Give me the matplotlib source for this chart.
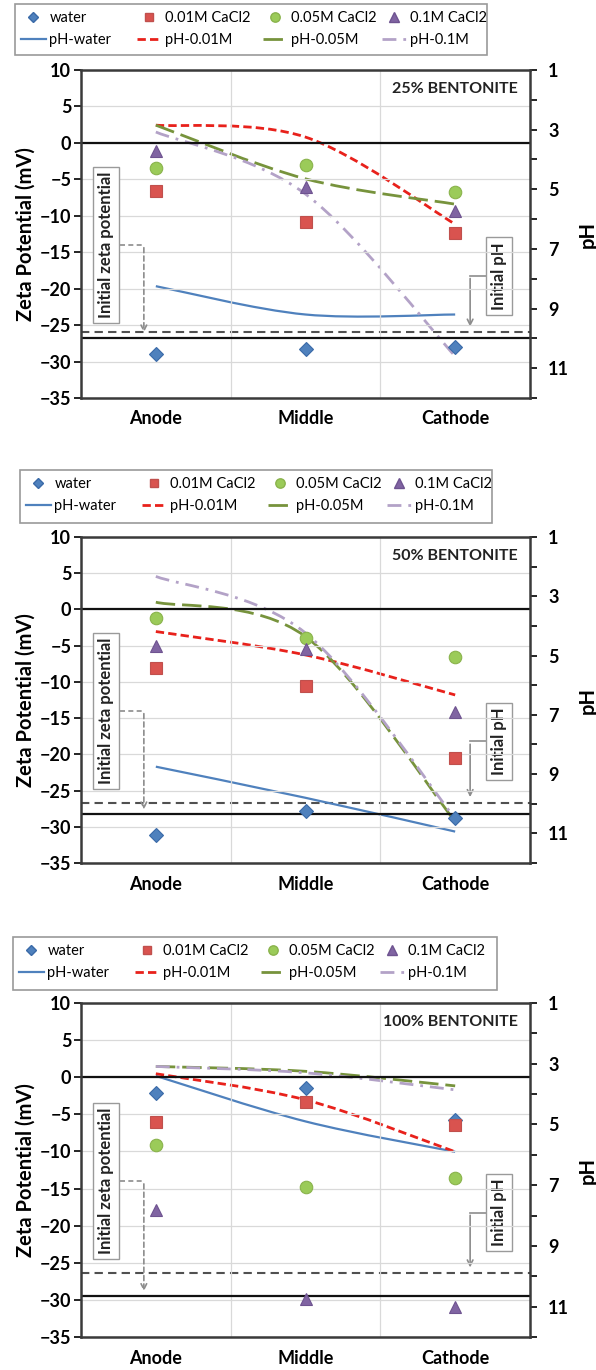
import matplotlib
matplotlib.use("Agg")
import matplotlib.pyplot as plt
from matplotlib.path import Path
from matplotlib.patches import PathPatch, Rectangle
from matplotlib.lines import Line2D
import numpy as np

plt.rcParams["font.family"] = ["Lato", "DejaVu Sans"]

# ---- data -------------------------------------------------------------
positions = ["Anode", "Middle", "Cathode"]
series = ["water", "0.01M CaCl2", "0.05M CaCl2", "0.1M CaCl2"]
ph_series = ["pH-water", "pH-0.01M", "pH-0.05M", "pH-0.1M"]
panel_titles = ["25% BENTONITE", "50% BENTONITE", "100% BENTONITE"]

# zeta potential (mV) per panel, rows follow `series`, columns follow `positions`
zeta_25 = [[-28.9, -28.3, -28.0],
           [-6.6, -10.9, -12.3],
           [-3.4, -3.1, -6.8],
           [-1.1, -6.1, -9.3]]
zeta_50 = [[-31.1, -27.8, -28.8],
           [-8.1, -10.6, -20.5],
           [-1.2, -4.0, -6.5],
           [-5.0, -5.4, -14.2]]
zeta_100 = [[-2.1, -1.5, -5.8],
            [-6.1, -3.3, -6.4],
            [-9.1, -14.8, -13.6],
            [-17.9, -29.9, -31.0]]

# pH per panel, rows follow `ph_series`
ph_25 = [[8.25, 9.2, 9.2],
         [2.85, 3.25, 6.17],
         [2.85, 4.65, 5.5],
         [3.08, 5.16, 10.6]]
ph_50 = [[8.75, 9.8, 10.94],
         [4.19, 4.98, 6.33],
         [3.2, 4.36, 10.6],
         [2.33, 4.24, 10.5]]
ph_100 = [[3.4, 4.9, 5.9],
          [3.33, 4.19, 5.9],
          [3.09, 3.25, 3.73],
          [3.09, 3.3, 3.86]]

initial_zeta = [-26.7, -28.3, -29.5]
initial_ph = [9.8, 9.97, 9.9]

zeta_data = [zeta_25, zeta_50, zeta_100]
ph_data = [ph_25, ph_50, ph_100]

# ---- styling ----------------------------------------------------------
marker_styles = [
    dict(marker="D", ms=7, mfc="#4F81BD", mec="#3A6AA8"),
    dict(marker="s", ms=8, mfc="#D9534F", mec="#C0504D"),
    dict(marker="o", ms=9, mfc="#9BCB59", mec="#8AB34C"),
    dict(marker="^", ms=9, mfc="#8064A2", mec="#6E5390"),
]
line_styles = [
    dict(color="#4F81BD", lw=1.6, ls="-"),
    dict(color="#E8211B", lw=2.0, ls=(0, (3, 1.5))),
    dict(color="#77933C", lw=2.0, ls=(0, (7, 2.5))),
    dict(color="#B3A2C7", lw=2.0, ls=(0, (5, 2.5, 1, 2.5))),
]

W, H = 596, 1370
panel_px = [(70, 398), (537, 863), (1003, 1337)]
legend_px = [(15, 4, 487, 55), (20, 470, 492, 523), (13, 937, 497, 990)]
legend_cols = [6, 122, 248, 367]   # column offsets inside the legend frame
AX_L, AX_R = 81, 530
CALLOUT = "#8C8C8C"


def smooth_path(xs, ys):
    """Catmull-Rom style bezier through the points (spreadsheet 'smoothed line')."""
    pts = np.column_stack([xs, ys]).astype(float)
    n = len(pts)
    verts = [pts[0]]
    codes = [Path.MOVETO]
    for i in range(n - 1):
        p_prev = pts[max(i - 1, 0)]
        p0, p1 = pts[i], pts[i + 1]
        p_next = pts[min(i + 2, n - 1)]
        c1 = p0 + (p1 - p_prev) / 6.0
        c2 = p1 - (p_next - p0) / 6.0
        verts += [c1, c2, p1]
        codes += [Path.CURVE4] * 3
    return Path(verts, codes)


fig = plt.figure(figsize=(W / 100, H / 100), dpi=100)
x = np.arange(len(positions))

for k in range(3):
    top, bot = panel_px[k]
    ax = fig.add_axes([AX_L / W, 1 - bot / H, (AX_R - AX_L) / W, (bot - top) / H])
    ax.set_xlim(-0.5, 2.5)
    ax.set_ylim(-35, 10)
    ax.set_yticks(np.arange(-35, 11, 5))
    ax.set_xticks(x)
    ax.set_xticklabels(positions, fontsize=13, fontweight="bold")
    ax.set_xticks([0.5, 1.5], minor=True)
    ax.tick_params(axis="x", which="both", length=0, pad=9)
    ax.tick_params(axis="y", length=5, width=1.2, labelsize=13, pad=2)
    for lbl in ax.get_yticklabels():
        lbl.set_fontweight("bold")
    ax.grid(axis="y", color="#D9D9D9", lw=0.9)
    ax.grid(axis="x", which="minor", color="#D9D9D9", lw=0.9)
    ax.set_axisbelow(True)
    for sp in ax.spines.values():
        sp.set_linewidth(1.8)
        sp.set_color("#3A3A3A")
    ax.set_ylabel("Zeta Potential (mV)", fontsize=14.5, fontweight="bold", labelpad=3)

    ax.axhline(0, color="#111111", lw=1.6, zorder=2)
    ax.axhline(initial_zeta[k], color="#111111", lw=1.6, zorder=2)

    ax2 = ax.twinx()
    ax2.set_ylim(12, 1)
    ax2.set_yticks(np.arange(1, 13, 1))
    ax2.set_yticklabels([str(v) if v % 2 == 1 else "" for v in range(1, 13)])
    ax2.tick_params(axis="y", length=5, width=1.2, labelsize=13, pad=8)
    for lbl in ax2.get_yticklabels():
        lbl.set_fontweight("bold")
    for sp in ax2.spines.values():
        sp.set_visible(False)
    ax2.set_ylabel("pH", fontsize=14.5, fontweight="bold", labelpad=6)
    ax2.axhline(initial_ph[k], color="#505050", lw=1.5, ls=(0, (4, 2.5)), zorder=2)

    # pH profiles as smoothed curves
    for j, vals in enumerate(ph_data[k]):
        st = line_styles[j]
        patch = PathPatch(smooth_path(x, vals), fill=False, edgecolor=st["color"],
                          lw=st["lw"], ls=st["ls"], zorder=3, capstyle="butt")
        ax2.add_patch(patch)

    # zeta potential markers
    for j, vals in enumerate(zeta_data[k]):
        ax.plot(x, vals, ls="none", mew=0.8, zorder=4, **marker_styles[j])

    ax.set_zorder(ax2.get_zorder() + 1)
    ax.patch.set_visible(False)

    ax.text(2.42, 7.4, panel_titles[k], ha="right", va="center",
            fontsize=11.5, fontweight="bold", color="#222222")

    # initial zeta potential callout
    ax.text(-0.33, -14, "Initial zeta potential", rotation=90, ha="center", va="center",
            fontsize=12, fontweight="bold", color="#222222",
            bbox=dict(boxstyle="square,pad=0.3", fc="white", ec="#9A9A9A", lw=1))
    ax.plot([-0.24, -0.08], [-14, -14], color=CALLOUT, lw=1.2, ls=(0, (3, 2)))
    ax.annotate("", xy=(-0.08, initial_zeta[k] + 0.3), xytext=(-0.08, -14),
                arrowprops=dict(arrowstyle="->", color=CALLOUT, lw=1.2, ls=(0, (3, 2))))

    # initial pH callout
    ax2.text(2.29, 7.9, "Initial pH", rotation=90, ha="center", va="center",
             fontsize=12, fontweight="bold", color="#222222",
             bbox=dict(boxstyle="square,pad=0.3", fc="white", ec="#9A9A9A", lw=1))
    ax2.plot([2.21, 2.1], [7.9, 7.9], color=CALLOUT, lw=1.2)
    ax2.annotate("", xy=(2.1, initial_ph[k] - 0.1), xytext=(2.1, 7.9),
                 arrowprops=dict(arrowstyle="->", color=CALLOUT, lw=1.2))

    # legend: one frame, four equal columns (marker row above line row)
    lx0, ly0, lx1, ly1 = legend_px[k]
    fig.patches.append(Rectangle((lx0 / W, 1 - ly1 / H), (lx1 - lx0) / W, (ly1 - ly0) / H,
                                 transform=fig.transFigure, fill=False,
                                 ec="#9A9A9A", lw=1.2))
    for j in range(4):
        st = line_styles[j]
        handles = [Line2D([], [], ls="none", **marker_styles[j]),
                   Line2D([], [], color=st["color"], lw=st["lw"], ls=st["ls"])]
        fig.legend(handles, [series[j], ph_series[j]], loc="upper left",
                   bbox_to_anchor=((lx0 + legend_cols[j]) / W, 1 - (ly0 + 7) / H),
                   fontsize=10.5, frameon=False, handlelength=1.7, handletextpad=0.25,
                   labelspacing=0.55, borderpad=0, borderaxespad=0, markerscale=0.75)

fig.savefig("out.png", dpi=100)
